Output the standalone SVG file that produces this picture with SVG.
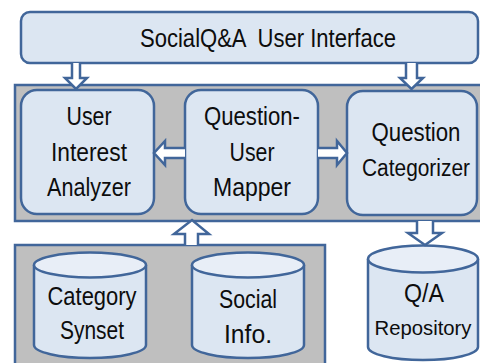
<svg xmlns="http://www.w3.org/2000/svg" width="480" height="363" viewBox="0 0 480 363">
<style>
.panel{fill:#bfbfbf;stroke:#41669a;stroke-width:2.5}
.box{fill:#dce6f2;stroke:#41669a;stroke-width:2.5}
.cyl{fill:#dce6f2;stroke:#41669a;stroke-width:2.5}
.cap{fill:#e8eef7;stroke:#41669a;stroke-width:2.5}
.arr{fill:#ffffff;stroke:#41669a;stroke-width:2.5;stroke-linejoin:miter}
text{font-family:"Liberation Sans",Arial,sans-serif;font-size:26px;fill:#0d0d0d;text-anchor:middle;white-space:pre}
.sm{font-size:23px}
.xs{font-size:21px}
</style>
<rect class="panel" x="15" y="85" width="470" height="136"/>
<rect class="panel" x="15" y="245" width="310" height="125"/>
<g id="ui">
<rect class="box" x="21" y="12" width="457" height="51" rx="9"/>
<text x="268" y="47" textLength="256" lengthAdjust="spacingAndGlyphs" xml:space="preserve">SocialQ&amp;A  User Interface</text>
</g>
<g id="analyzer">
<rect class="box" x="21" y="90" width="133" height="124" rx="16"/>
<text x="89" y="125" textLength="45" lengthAdjust="spacingAndGlyphs">User</text>
<text x="89" y="161" textLength="76" lengthAdjust="spacingAndGlyphs">Interest</text>
<text x="89" y="196" textLength="84" lengthAdjust="spacingAndGlyphs">Analyzer</text>
</g>
<g id="mapper">
<rect class="box" x="185" y="90" width="133" height="124" rx="16"/>
<text x="252" y="125" textLength="96" lengthAdjust="spacingAndGlyphs">Question-</text>
<text x="252" y="161" textLength="45" lengthAdjust="spacingAndGlyphs">User</text>
<text x="252" y="196" textLength="78" lengthAdjust="spacingAndGlyphs">Mapper</text>
</g>
<g id="categorizer">
<rect class="box" x="347" y="91" width="130" height="124" rx="16"/>
<text x="416" y="141" textLength="89" lengthAdjust="spacingAndGlyphs">Question</text>
<text class="sm" x="416" y="176" textLength="108" lengthAdjust="spacingAndGlyphs">Categorizer</text>
</g>
<g id="synset">
<path class="cyl" d="M34 265 V345 A56 13 0 0 0 146 345 V265"/>
<ellipse class="cap" cx="90" cy="265" rx="56" ry="12.5"/>
<text x="92" y="305" textLength="89" lengthAdjust="spacingAndGlyphs">Category</text>
<text x="92" y="339" textLength="64" lengthAdjust="spacingAndGlyphs">Synset</text>
</g>
<g id="social">
<path class="cyl" d="M192 265 V345 A56 13 0 0 0 304 345 V265"/>
<ellipse class="cap" cx="248" cy="265" rx="56" ry="12.5"/>
<text x="248" y="308" textLength="58" lengthAdjust="spacingAndGlyphs">Social</text>
<text x="248" y="343" textLength="48" lengthAdjust="spacingAndGlyphs">Info.</text>
</g>
<g id="repository">
<path class="cyl" d="M368 259 V347 A55 13 0 0 0 478 347 V259"/>
<ellipse class="cap" cx="423" cy="259" rx="55" ry="13.5"/>
<text x="424" y="302" textLength="40" lengthAdjust="spacingAndGlyphs">Q/A</text>
<text class="xs" x="423" y="335" textLength="97" lengthAdjust="spacingAndGlyphs">Repository</text>
</g>
<g id="connectors">
<path class="arr" d="M72 63 V78 H65 L76 89 L87 78 H80 V63"/>
<path class="arr" d="M406 63 V78 H400 L411.5 89 L423 78 H417 V63"/>
<path class="arr" d="M185 148 H165 V141 L154 153 L165 165 V158 H185"/>
<path class="arr" d="M318 148 H337 V141 L347 153 L337 165 V158 H318"/>
<path class="arr" d="M185 245 V234 H174 L192 220 L209 234 H198 V245"/>
<path class="arr" d="M417 221 V233 H408 L425 245 L442 233 H433 V221"/>
</g>
</svg>
